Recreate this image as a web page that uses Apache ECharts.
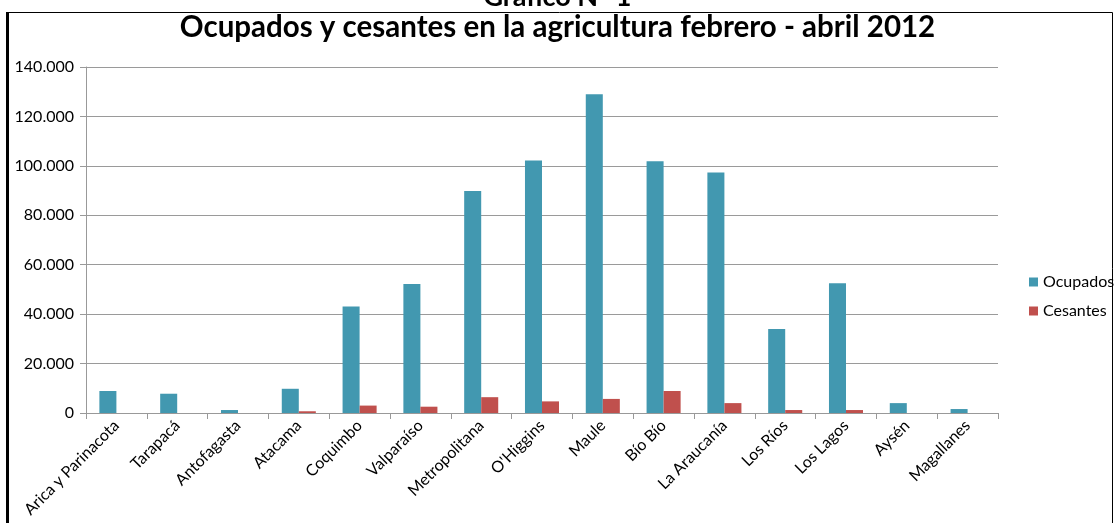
<!DOCTYPE html>
<html>
<head>
<meta charset="utf-8">
<script src="https://cdn.jsdelivr.net/npm/echarts@6/dist/echarts.min.js"></script>
<style>
html,body{margin:0;padding:0;background:#fff;}
#chart{width:1115px;height:523px;}
</style>
</head>
<body>
<div id="chart"></div>
<script>
const categories = ['Arica y Parinacota','Tarapacá','Antofagasta','Atacama','Coquimbo','Valparaíso','Metropolitana',"O'Higgins",'Maule','Bío Bío','La Araucanía','Los Ríos','Los Lagos','Aysén','Magallanes'];
const ocupados = [8900, 7800, 1200, 9800, 43100, 52200, 89800, 102200, 129000, 101900, 97300, 34000, 52500, 4000, 1600];
const cesantes = [0, 0, 0, 700, 3000, 2550, 6400, 4700, 5700, 8900, 4000, 1200, 1200, 0, 0];
const yTicks = { min: 0, max: 140000, interval: 20000 };
const seriesNames = ['Ocupados', 'Cesantes'];
const title = 'Ocupados y cesantes en la agricultura febrero - abril 2012';
const supTitle = 'Gráfico N° 1';

const FONT = 'Lato, "Open Sans", sans-serif';
const chart = echarts.init(document.getElementById('chart'));
function fmt(v){ return String(v).replace(/\B(?=(\d{3})+(?!\d))/g, '.'); }
chart.setOption({
  animation: false,
  backgroundColor: '#fff',
  textStyle: { fontFamily: FONT },
  graphic: [
    { type: 'rect', shape: { x: 6.5, y: 12.5, width: 1106, height: 530 }, style: { fill: 'none', stroke: '#000', lineWidth: 1 }, z: -1 },
    { type: 'rect', shape: { x: 6, y: 12, width: 3, height: 520 }, style: { fill: '#000' }, z: -1 },
    { type: 'text', left: 'center', top: -16, style: { text: supTitle, font: 'bold 27px ' + FONT, fill: '#000' } },
    { type: 'text', left: 'center', top: 12, style: { text: title, font: 'bold 29.5px ' + FONT, fill: '#000' } }
  ],
  legend: {
    orient: 'vertical', left: 1024, top: 269, itemGap: 13,
    itemWidth: 9, itemHeight: 9, icon: 'rect',
    textStyle: { fontSize: 16, color: '#000', fontFamily: FONT },
    data: seriesNames
  },
  grid: { left: 86, right: 117, top: 67, bottom: 110 },
  xAxis: {
    type: 'category', data: categories,
    axisLine: { lineStyle: { color: '#999' } },
    axisTick: { show: true, length: 6, alignWithLabel: false, lineStyle: { color: '#999' } },
    axisLabel: { rotate: 45, fontSize: 16, color: '#000', margin: 10, interval: 0 }
  },
  yAxis: {
    type: 'value', min: yTicks.min, max: yTicks.max, interval: yTicks.interval,
    axisLine: { show: true, lineStyle: { color: '#999' } },
    axisTick: { show: true, length: 6, lineStyle: { color: '#999' } },
    splitLine: { lineStyle: { color: '#9a9a9a' } },
    axisLabel: { fontSize: 16, color: '#000', margin: 12, formatter: fmt }
  },
  series: [
    { name: seriesNames[0], type: 'bar', data: ocupados, barGap: '0%', barCategoryGap: '44%',
      itemStyle: { color: '#4298B0' } },
    { name: seriesNames[1], type: 'bar', data: cesantes,
      itemStyle: { color: '#C0504D' } }
  ]
});
</script>
</body>
</html>
